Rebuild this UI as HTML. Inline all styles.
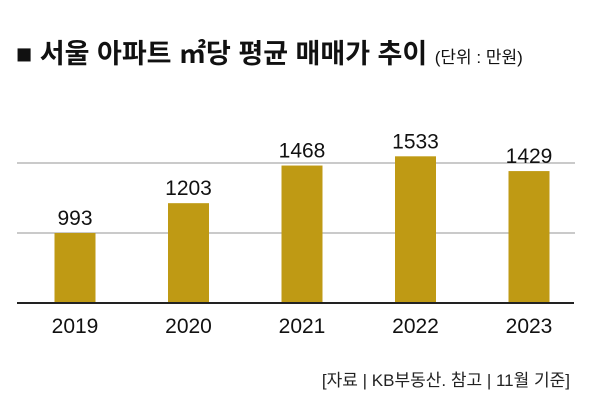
<!DOCTYPE html>
<html><head><meta charset="utf-8"><style>
body{margin:0;background:#fff;width:600px;height:412px;overflow:hidden}
svg{display:block}
text{font-family:"Liberation Sans","Noto Sans CJK KR",sans-serif}
</style></head><body>
<svg id="chart" width="600" height="412">
<text x="16" y="63" font-size="27" font-weight="bold" fill="#111">■ 서울 아파트 ㎡당 평균 매매가 추이 <tspan font-size="17" font-weight="normal">(단위 : 만원)</tspan></text>
<line x1="17" x2="575" y1="163" y2="163" stroke="#aaa" stroke-width="1.2"/>
<line x1="17" x2="575" y1="233" y2="233" stroke="#aaa" stroke-width="1.2"/>
<g id="bars"></g>
<line x1="17" x2="574" y1="303" y2="303" stroke="#222" stroke-width="2"/>
<text x="570" y="386" font-size="17" text-anchor="end" fill="#222">[자료 | KB부동산. 참고 | 11월 기준]</text>
</svg>
<script>
const categories=["2019","2020","2021","2022","2023"];
const values=[993,1203,1468,1533,1429];
const labels=["993","1203","1468","1533","1429"];
const y=v=>303-(v-500)*0.142;
const x=i=>75+i*113.5;
const g=document.getElementById('bars');
const ns="http://www.w3.org/2000/svg";
categories.forEach((c,i)=>{
  const r=document.createElementNS(ns,'rect');
  r.setAttribute('x',x(i)-20.5);r.setAttribute('width',41);
  r.setAttribute('y',y(values[i]));r.setAttribute('height',303-y(values[i]));
  r.setAttribute('fill','#bf9a14');
  
  
  g.appendChild(r);
  const t=document.createElementNS(ns,'text');
  t.setAttribute('x',x(i));t.setAttribute('y',y(values[i])-8);
  t.setAttribute('text-anchor','middle');t.setAttribute('font-size','21');t.setAttribute('fill','#111');
  t.textContent=labels[i];
  
  
  g.appendChild(t);
  const a=document.createElementNS(ns,'text');
  a.setAttribute('x',x(i));a.setAttribute('y',333);
  a.setAttribute('text-anchor','middle');a.setAttribute('font-size','21');a.setAttribute('fill','#111');
  a.textContent=c;
  
  
  g.appendChild(a);
});
</script>
</body></html>
